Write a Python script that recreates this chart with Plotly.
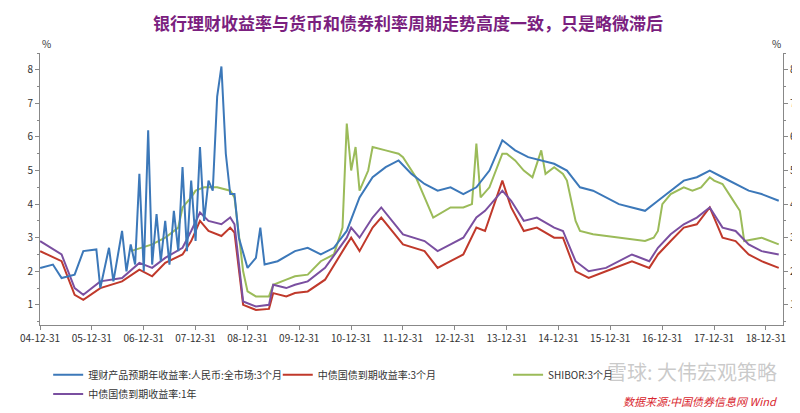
import plotly.graph_objects as go

title = "银行理财收益率与货币和债券利率周期走势高度一致，只是略微滞后"

blue_dates = ["2005-01","2005-04","2005-06","2005-09","2005-11","2006-02","2006-03","2006-05","2006-06","2006-08","2006-09","2006-10","2006-11","2006-12","2007-01","2007-02","2007-03","2007-04","2007-05","2007-06","2007-07","2007-08","2007-09","2007-10","2007-11","2007-12","2008-01","2008-02","2008-03","2008-04","2008-05","2008-06","2008-07","2008-08","2008-09","2008-10","2008-11","2009-01","2009-03","2009-04","2009-05","2009-08","2009-12","2010-03","2010-06","2010-09","2010-12","2011-03","2011-06","2011-09","2011-12","2012-03","2012-06","2012-09","2012-12","2013-03","2013-06","2013-09","2013-12","2014-03","2014-06","2014-09","2014-12","2015-03","2015-06","2015-09","2015-12","2016-03","2016-06","2016-09","2016-12","2017-03","2017-06","2017-09","2017-12","2018-03","2018-06","2018-09","2018-12","2019-04"]
blue_vals = [2.1,2.2,1.8,1.9,2.6,2.65,1.5,2.7,1.7,3.2,2.0,2.8,2.2,4.9,2.0,6.2,2.2,3.7,2.3,3.5,2.2,3.8,2.6,5.1,2.6,4.7,2.9,5.7,3.5,4.7,4.4,7.2,8.1,5.5,4.3,4.3,3.0,2.1,2.4,3.3,2.2,2.3,2.6,2.7,2.5,2.7,3.2,4.2,4.8,5.1,5.3,4.9,4.6,4.4,4.5,4.3,4.5,5.0,5.9,5.6,5.4,5.3,5.2,5.0,4.5,4.4,4.2,4.0,3.9,3.8,4.1,4.4,4.7,4.8,5.0,4.8,4.6,4.4,4.3,4.1]

red_dates = ["2005-01","2005-06","2005-09","2005-11","2006-03","2006-08","2006-12","2007-03","2007-06","2007-10","2007-12","2008-02","2008-04","2008-07","2008-09","2008-10","2008-12","2009-03","2009-06","2009-07","2009-10","2009-12","2010-03","2010-07","2010-12","2011-01","2011-03","2011-06","2011-08","2012-01","2012-06","2012-09","2012-12","2013-03","2013-06","2013-08","2013-12","2014-02","2014-05","2014-08","2014-12","2015-02","2015-05","2015-08","2015-12","2016-06","2016-10","2016-12","2017-03","2017-06","2017-09","2017-12","2018-03","2018-06","2018-09","2018-12","2019-04"]
red_vals = [2.6,2.3,1.3,1.15,1.5,1.7,2.05,1.85,2.25,2.5,2.9,3.5,3.2,3.05,3.3,3.15,1.0,0.85,0.88,1.35,1.25,1.35,1.4,1.75,2.8,3.0,2.6,3.3,3.6,2.8,2.6,2.1,2.3,2.5,3.3,3.2,4.7,3.9,3.2,3.3,3.0,3.0,2.0,1.8,2.0,2.3,2.1,2.5,2.9,3.3,3.4,3.9,3.0,2.9,2.5,2.3,2.1]
purple_vals = [2.9,2.5,1.5,1.3,1.7,1.8,2.25,2.1,2.4,2.7,3.2,3.75,3.5,3.4,3.6,3.4,1.1,0.95,1.0,1.6,1.5,1.6,1.7,2.1,3.0,3.3,3.0,3.6,3.9,3.1,2.9,2.6,2.8,3.0,3.6,3.8,4.4,4.1,3.5,3.6,3.3,3.2,2.3,2.0,2.1,2.5,2.3,2.7,3.1,3.4,3.6,3.9,3.3,3.2,2.8,2.6,2.5]

green_dates = ["2006-10","2007-03","2007-06","2007-09","2007-10","2007-12","2008-01","2008-03","2008-06","2008-09","2008-10","2008-11","2008-12","2009-01","2009-03","2009-06","2009-07","2009-10","2009-12","2010-03","2010-06","2010-09","2010-11","2010-12","2011-01","2011-02","2011-03","2011-05","2011-06","2011-09","2011-12","2012-01","2012-04","2012-06","2012-08","2012-12","2013-03","2013-05","2013-06","2013-07","2013-09","2013-12","2014-01","2014-03","2014-05","2014-07","2014-09","2014-10","2014-12","2015-02","2015-03","2015-05","2015-06","2015-09","2015-12","2016-06","2016-09","2016-11","2016-12","2017-01","2017-03","2017-06","2017-08","2017-10","2017-12","2018-01","2018-03","2018-05","2018-07","2018-08","2018-12","2019-04"]
green_vals = [2.6,2.8,3.0,3.3,3.9,4.2,4.4,4.5,4.5,4.4,4.2,3.0,2.0,1.4,1.25,1.25,1.6,1.75,1.85,1.9,2.3,2.5,3.3,6.4,5.0,5.7,4.4,5.0,5.7,5.6,5.5,5.4,4.8,4.2,3.6,3.9,3.9,4.0,5.8,4.2,4.5,5.5,5.5,5.3,5.0,4.8,5.6,4.9,5.1,4.9,4.7,3.5,3.2,3.1,3.05,2.95,2.9,3.0,3.2,4.0,4.3,4.5,4.4,4.5,4.8,4.7,4.6,4.2,3.8,2.9,3.0,2.8]

names = ["理财产品预期年收益率:人民币:全市场:3个月","中债国债到期收益率:3个月","SHIBOR:3个月","中债国债到期收益率:1年"]
colors = ["#3c78b9","#c0392b","#9bbb59","#7a4fa0"]
tick_dates = [f"{y}-12-31" for y in range(2004, 2019)]
tick_text = [f"{y%100:02d}-12-31" for y in range(2004, 2019)]

fig = go.Figure()
fig.add_trace(go.Scatter(x=green_dates, y=green_vals, name=names[2], line=dict(color=colors[2], width=2), legend="legend3"))
fig.add_trace(go.Scatter(x=red_dates, y=red_vals, name=names[1], line=dict(color=colors[1], width=2), legend="legend2"))
fig.add_trace(go.Scatter(x=red_dates, y=purple_vals, name=names[3], line=dict(color=colors[3], width=2), legend="legend4"))
fig.add_trace(go.Scatter(x=blue_dates, y=blue_vals, name=names[0], line=dict(color=colors[0], width=2), legend="legend"))
fig.add_trace(go.Scatter(x=[tick_dates[0]], y=[None], yaxis="y2", showlegend=False, hoverinfo="skip"))

ax = dict(range=[0.4, 8.5], tickvals=list(range(1, 9)), showgrid=False, zeroline=False,
          showline=True, linecolor="#888", ticks="outside", ticklen=4, tickcolor="#888",
          minor=dict(dtick=0.5, ticks="outside", ticklen=2, tickcolor="#888"),
          tickfont=dict(size=10, color="#333"))
lg = dict(orientation="h", font=dict(size=10, color="#333"), bgcolor="rgba(0,0,0,0)", yanchor="top", xanchor="left")
fig.update_layout(
    width=800, height=413, paper_bgcolor="white", plot_bgcolor="white",
    margin=dict(l=21, r=25, t=45, b=73),
    title=dict(text=f"<b>{title}</b>", x=0.5, y=0.975, font=dict(size=17, color="#7b1f7f", family="Noto Sans CJK SC")),
    font=dict(family="Noto Sans CJK SC"),
    xaxis=dict(range=["2004-12-31", "2019-05-01"], type="date", tickvals=tick_dates, ticktext=tick_text,
               showgrid=False, showline=True, linecolor="#888", ticks="outside", ticklen=4, tickcolor="#888",
               tickfont=dict(size=10, color="#333")),
    yaxis=ax,
    yaxis2=dict(ax, overlaying="y", side="right"),
    legend=dict(lg, x=0.011, y=-0.13),
    legend2=dict(lg, x=0.32, y=-0.13),
    legend3=dict(lg, x=0.63, y=-0.13),
    legend4=dict(lg, x=0.011, y=-0.2),
    annotations=[
        dict(text="%", xref="paper", yref="paper", x=0.0, y=1.0, xanchor="left", yanchor="bottom", showarrow=False, font=dict(size=10, color="#333")),
        dict(text="%", xref="paper", yref="paper", x=1.0, y=1.0, xanchor="right", yanchor="bottom", showarrow=False, font=dict(size=10, color="#333")),
        dict(text="雪球: 大伟宏观策略", xref="paper", yref="paper", x=0.995, y=-0.17, xanchor="right", yanchor="middle", showarrow=False, font=dict(size=20, color="rgba(150,150,150,0.5)")),
        dict(text="<i>数据来源:中国债券信息网 Wind</i>", xref="paper", yref="paper", x=0.995, y=-0.28, xanchor="right", yanchor="middle", showarrow=False, font=dict(size=11, color="#d9262e")),
    ],
)
fig.write_html("out.html")
